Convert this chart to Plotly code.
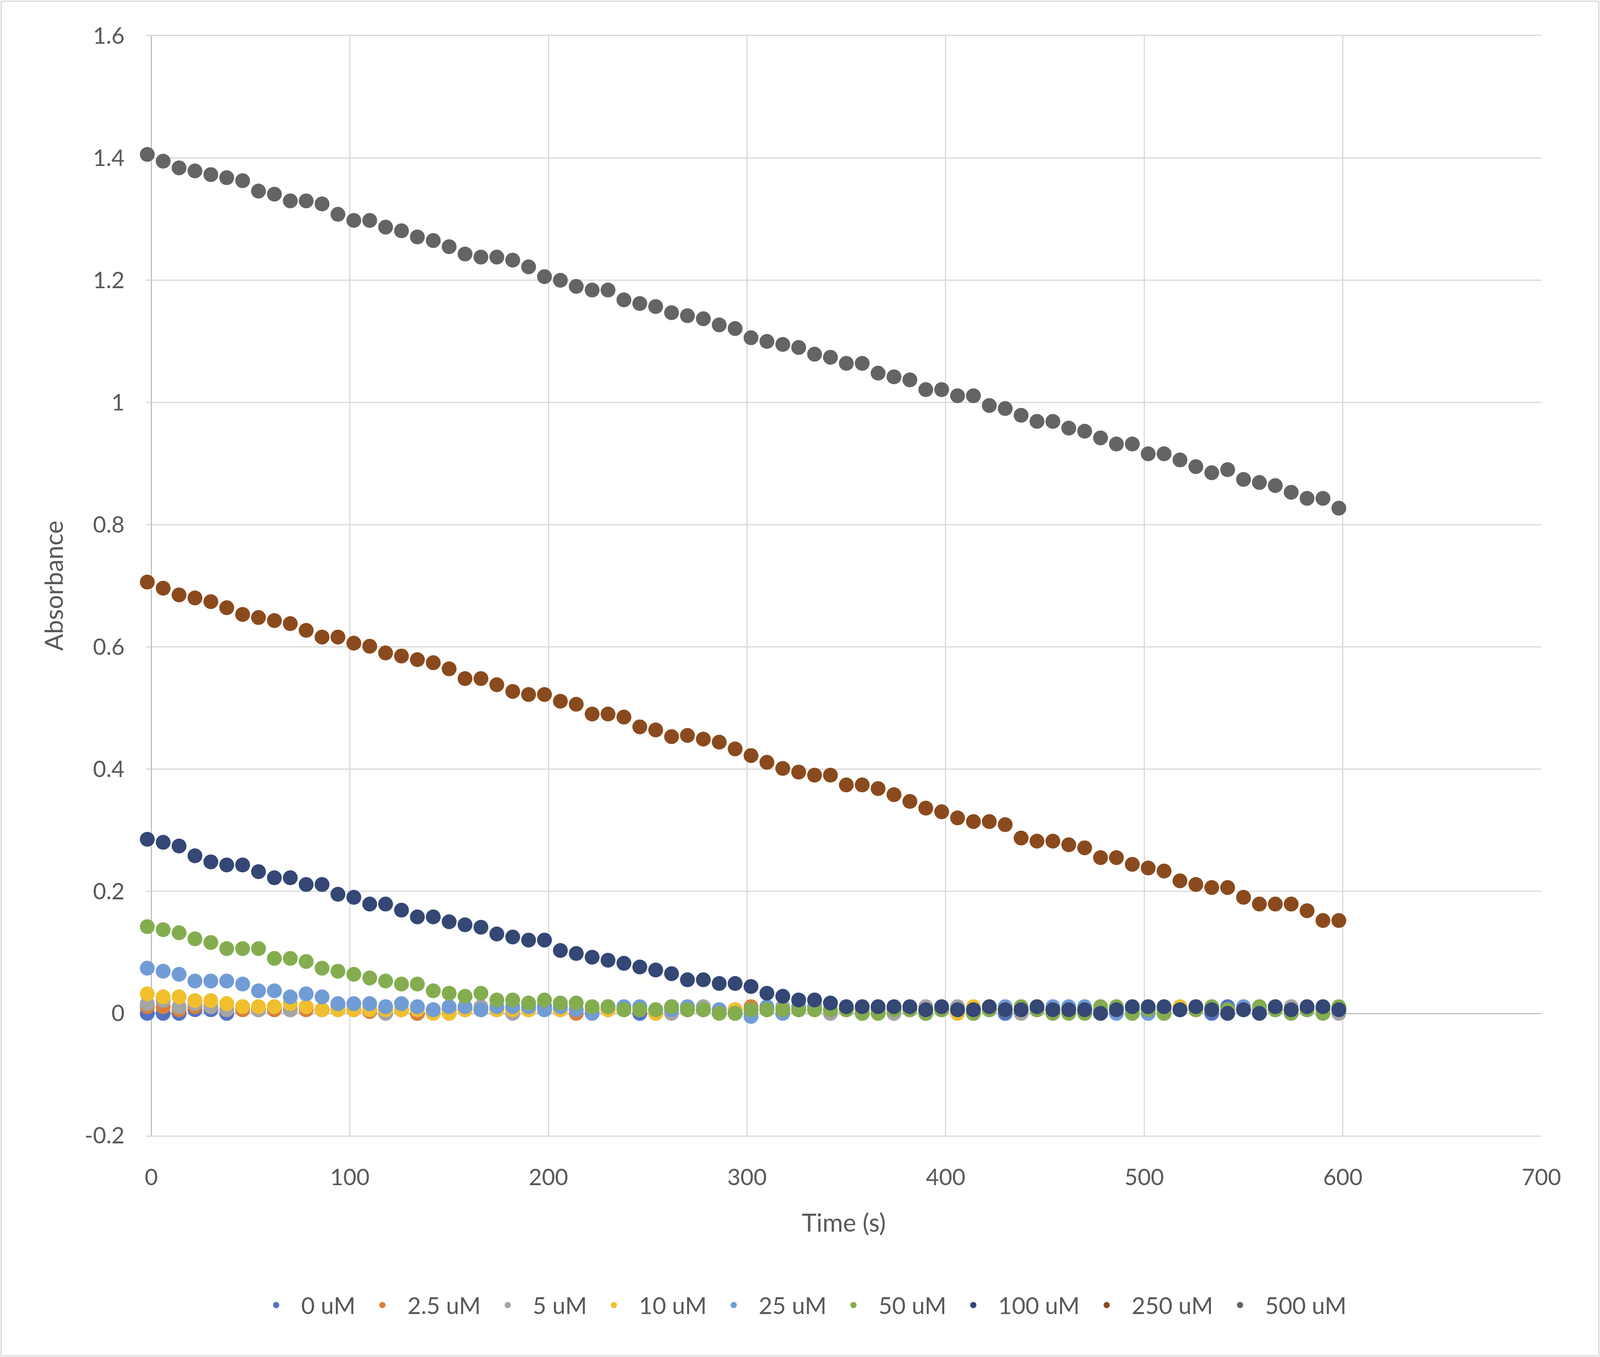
import plotly.graph_objects as go

# ---------------- data ----------------
time_s = [-2, 6, 14, 22, 30, 38, 46, 54, 62, 70, 78, 86, 94, 102, 110, 118, 126, 134, 142, 150,
          158, 166, 174, 182, 190, 198, 206, 214, 222, 230, 238, 246, 254, 262, 270, 278, 286, 294,
          302, 310, 318, 326, 334, 342, 350, 358, 366, 374, 382, 390, 398, 406, 414, 422, 430, 438,
          446, 454, 462, 470, 478, 486, 494, 502, 510, 518, 526, 534, 542, 550, 558, 566, 574, 582,
          590, 598]

abs_0uM = [0.0, 0.0, 0.0, 0.006, 0.006, 0.0, 0.006, 0.006, 0.006, 0.006, 0.006, 0.006, 0.011, 0.006,
           0.006, 0.006, 0.006, 0.0, 0.006, 0.006, 0.006, 0.006, 0.006, 0.006, 0.006, 0.011, 0.006,
           0.006, 0.006, 0.006, 0.006, 0.0, 0.006, 0.011, 0.006, 0.006, 0.006, 0.006, 0.006, 0.006,
           0.006, 0.006, 0.006, 0.006, 0.006, 0.006, 0.006, 0.006, 0.006, 0.006, 0.006, 0.006, 0.006,
           0.006, 0.0, 0.006, 0.006, 0.006, 0.006, 0.006, 0.006, 0.006, 0.006, 0.006, 0.006, 0.006,
           0.006, 0.0, 0.011, 0.006, 0.006, 0.006, 0.006, 0.006, 0.006, 0.006]
abs_2_5uM = [0.011, 0.011, 0.006, 0.011, 0.011, 0.006, 0.006, 0.006, 0.006, 0.006, 0.006, 0.006, 0.006,
             0.006, 0.003, 0.006, 0.006, 0.0, 0.006, 0.006, 0.006, 0.006, 0.006, 0.006, 0.006, 0.006,
             0.006, 0.0, 0.006, 0.006, 0.006, 0.006, 0.0, 0.006, 0.006, 0.006, 0.006, 0.006, 0.011,
             0.006, 0.006, 0.006, 0.006, 0.006, 0.006, 0.006, 0.006, 0.006, 0.006, 0.006, 0.006, 0.006,
             0.006, 0.006, 0.006, 0.006, 0.006, 0.006, 0.006, 0.006, 0.006, 0.006, 0.006, 0.006, 0.006,
             0.006, 0.006, 0.006, 0.006, 0.006, 0.006, 0.006, 0.006, 0.006, 0.006, 0.006]
abs_5uM = [0.016, 0.021, 0.011, 0.016, 0.011, 0.006, 0.011, 0.006, 0.011, 0.006, 0.011, 0.006, 0.006,
           0.006, 0.006, 0.0, 0.006, 0.006, 0.006, 0.006, 0.006, 0.011, 0.006, 0.0, 0.006, 0.006,
           0.006, 0.006, 0.006, 0.006, 0.006, 0.006, 0.006, 0.0, 0.006, 0.011, 0.006, 0.006, 0.006,
           0.006, 0.011, 0.006, 0.006, 0.0, 0.006, 0.006, 0.006, 0.0, 0.006, 0.011, 0.006, 0.011, 0.0,
           0.006, 0.006, 0.0, 0.006, 0.006, 0.006, 0.006, 0.006, 0.006, 0.006, 0.006, 0.006, 0.006,
           0.006, 0.006, 0.006, 0.006, 0.006, 0.006, 0.011, 0.006, 0.006, 0.0]
abs_10uM = [0.032, 0.027, 0.027, 0.021, 0.021, 0.016, 0.011, 0.011, 0.011, 0.016, 0.011, 0.006, 0.006,
            0.006, 0.006, 0.006, 0.006, 0.006, 0.0, 0.0, 0.006, 0.006, 0.006, 0.006, 0.006, 0.006,
            0.006, 0.006, 0.006, 0.006, 0.006, 0.006, 0.0, 0.006, 0.011, 0.006, 0.006, 0.006, 0.006,
            0.006, 0.006, 0.006, 0.006, 0.006, 0.006, 0.006, 0.006, 0.006, 0.006, 0.006, 0.006, 0.0,
            0.011, 0.006, 0.006, 0.006, 0.006, 0.006, 0.006, 0.006, 0.006, 0.006, 0.006, 0.006, 0.006,
            0.011, 0.006, 0.006, 0.006, 0.006, 0.006, 0.006, 0.006, 0.006, 0.006, 0.006]
abs_25uM = [0.074, 0.069, 0.064, 0.053, 0.053, 0.053, 0.048, 0.037, 0.037, 0.027, 0.032, 0.027, 0.016,
            0.016, 0.016, 0.011, 0.016, 0.011, 0.006, 0.011, 0.011, 0.006, 0.011, 0.011, 0.011, 0.006,
            0.011, 0.006, 0.0, 0.011, 0.011, 0.011, 0.006, 0.006, 0.011, 0.006, 0.006, 0.0, -0.005,
            0.011, 0.0, 0.011, 0.011, 0.006, 0.006, 0.0, 0.006, 0.006, 0.006, 0.0, 0.006, 0.006, 0.006,
            0.006, 0.011, 0.006, 0.006, 0.011, 0.011, 0.011, 0.006, 0.0, 0.006, 0.0, 0.006, 0.006,
            0.006, 0.006, 0.006, 0.011, 0.006, 0.006, 0.006, 0.006, 0.006, 0.006]
abs_50uM = [0.142, 0.137, 0.132, 0.122, 0.116, 0.106, 0.106, 0.106, 0.090, 0.090, 0.085, 0.074, 0.069,
            0.064, 0.058, 0.053, 0.048, 0.048, 0.037, 0.033, 0.028, 0.033, 0.022, 0.022, 0.017, 0.022,
            0.017, 0.017, 0.011, 0.011, 0.006, 0.006, 0.006, 0.011, 0.006, 0.006, 0.0, 0.0, 0.006,
            0.006, 0.006, 0.006, 0.006, 0.006, 0.006, 0.0, 0.0, 0.006, 0.006, 0.0, 0.006, 0.006, 0.0,
            0.006, 0.006, 0.011, 0.006, 0.0, 0.0, 0.0, 0.011, 0.011, 0.0, 0.006, 0.0, 0.006, 0.006,
            0.011, 0.006, 0.006, 0.011, 0.006, 0.0, 0.006, 0.0, 0.011]
abs_100uM = [0.285, 0.280, 0.274, 0.258, 0.248, 0.243, 0.243, 0.232, 0.222, 0.222, 0.211, 0.211, 0.195,
             0.190, 0.179, 0.179, 0.169, 0.158, 0.158, 0.150, 0.145, 0.141, 0.130, 0.125, 0.120, 0.120,
             0.103, 0.098, 0.092, 0.087, 0.082, 0.076, 0.071, 0.065, 0.055, 0.055, 0.049, 0.049, 0.044,
             0.033, 0.028, 0.022, 0.022, 0.017, 0.011, 0.011, 0.011, 0.011, 0.011, 0.006, 0.011, 0.006,
             0.006, 0.011, 0.006, 0.006, 0.011, 0.006, 0.006, 0.006, 0.0, 0.006, 0.011, 0.011, 0.011,
             0.006, 0.011, 0.006, 0.0, 0.006, 0.0, 0.011, 0.006, 0.011, 0.011, 0.006]
abs_250uM = [0.706, 0.696, 0.685, 0.680, 0.674, 0.664, 0.653, 0.648, 0.643, 0.638, 0.627, 0.616, 0.616,
             0.606, 0.601, 0.590, 0.585, 0.579, 0.574, 0.564, 0.548, 0.548, 0.538, 0.527, 0.522, 0.522,
             0.511, 0.506, 0.490, 0.490, 0.485, 0.469, 0.464, 0.453, 0.455, 0.449, 0.444, 0.433, 0.422,
             0.411, 0.401, 0.395, 0.390, 0.390, 0.374, 0.374, 0.368, 0.358, 0.347, 0.336, 0.330, 0.320,
             0.314, 0.314, 0.309, 0.287, 0.282, 0.282, 0.276, 0.271, 0.255, 0.255, 0.244, 0.238, 0.233,
             0.217, 0.211, 0.206, 0.206, 0.190, 0.179, 0.179, 0.179, 0.168, 0.152, 0.152]
abs_500uM = [1.406, 1.395, 1.384, 1.379, 1.373, 1.368, 1.363, 1.346, 1.341, 1.330, 1.330, 1.325, 1.308,
             1.298, 1.298, 1.287, 1.281, 1.271, 1.265, 1.255, 1.243, 1.238, 1.238, 1.233, 1.222, 1.206,
             1.200, 1.190, 1.184, 1.184, 1.168, 1.162, 1.157, 1.147, 1.142, 1.137, 1.127, 1.121, 1.106,
             1.100, 1.095, 1.090, 1.079, 1.074, 1.064, 1.064, 1.048, 1.042, 1.037, 1.021, 1.021, 1.011,
             1.011, 0.995, 0.990, 0.979, 0.969, 0.969, 0.958, 0.953, 0.942, 0.932, 0.932, 0.916, 0.916,
             0.906, 0.895, 0.885, 0.890, 0.874, 0.869, 0.864, 0.853, 0.843, 0.843, 0.827]

series_names = ["0 uM", "2.5 uM", "5 uM", "10 uM", "25 uM", "50 uM", "100 uM", "250 uM", "500 uM"]
series_values = [abs_0uM, abs_2_5uM, abs_5uM, abs_10uM, abs_25uM, abs_50uM, abs_100uM, abs_250uM, abs_500uM]
series_colors = ["#5472C4", "#DA7F3A", "#A5A5A5", "#F1BF2E", "#719CD6", "#84AD50", "#344775", "#8B4A1E", "#646464"]

x_ticks = [0, 100, 200, 300, 400, 500, 600, 700]
y_ticks = [-0.2, 0, 0.2, 0.4, 0.6, 0.8, 1.0, 1.2, 1.4, 1.6]
y_ticktext = ["-0.2", "0", "0.2", "0.4", "0.6", "0.8", "1", "1.2", "1.4", "1.6"]

# ---------------- figure ----------------
W, H = 4096, 3475
ML, MR, MT, MB = 374, 150, 92, 567
FONT = "Lato, Carlito, Calibri, sans-serif"
TXT = "#595959"
GRID = "#D9D9D9"

fig = go.Figure()
for name, vals, col in zip(series_names, series_values, series_colors):
    fig.add_trace(go.Scatter(
        x=time_s, y=vals, name=name, mode="markers",
        marker=dict(color=col, size=38, line=dict(width=0)),
        cliponaxis=False,
    ))

pw = W - ML - MR
ph = H - MT - MB
fig.add_shape(type="rect", xref="paper", yref="paper",
              x0=(3 - ML) / pw, x1=(W - 3 - ML) / pw,
              y0=(H - MB - (H - 3)) / ph, y1=(H - MB - 3) / ph,
              line=dict(color=GRID, width=3), fillcolor="rgba(0,0,0,0)", layer="below")

fig.update_layout(
    width=W, height=H,
    margin=dict(l=ML, r=MR, t=MT, b=MB, autoexpand=False),
    paper_bgcolor="white", plot_bgcolor="white",
    font=dict(family=FONT, size=58, color=TXT),
    showlegend=True,
    legend=dict(orientation="h", x=(W / 2 - ML) / pw, xanchor="center",
                y=-(3342 - (H - MB)) / ph, yanchor="middle",
                font=dict(family=FONT, size=60, color=TXT),
                itemwidth=118, bgcolor="rgba(0,0,0,0)", tracegroupgap=0),
    xaxis=dict(range=[-2.6, 700], tickvals=x_ticks, ticktext=[str(v) for v in x_ticks],
               showgrid=True, gridcolor=GRID, gridwidth=3,
               zeroline=True, zerolinecolor="#BFBFBF", zerolinewidth=3,
               showline=True, linecolor=GRID, linewidth=3, mirror=True,
               ticks="", ticklabelstandoff=54,
               tickfont=dict(family=FONT, size=58, color=TXT),
               title=dict(text="Time (s)", font=dict(family=FONT, size=64, color=TXT), standoff=64)),
    yaxis=dict(range=[-0.2, 1.6], tickvals=y_ticks, ticktext=y_ticktext,
               showgrid=True, gridcolor=GRID, gridwidth=3,
               zeroline=True, zerolinecolor="#BFBFBF", zerolinewidth=3,
               showline=False, ticks="", ticklabelstandoff=54,
               tickfont=dict(family=FONT, size=58, color=TXT),
               title=dict(text="Absorbance", font=dict(family=FONT, size=64, color=TXT), standoff=34)),
)

fig.write_html("out.html", config={"displayModeBar": False},
               post_script="document.body.style.margin='0px';")
